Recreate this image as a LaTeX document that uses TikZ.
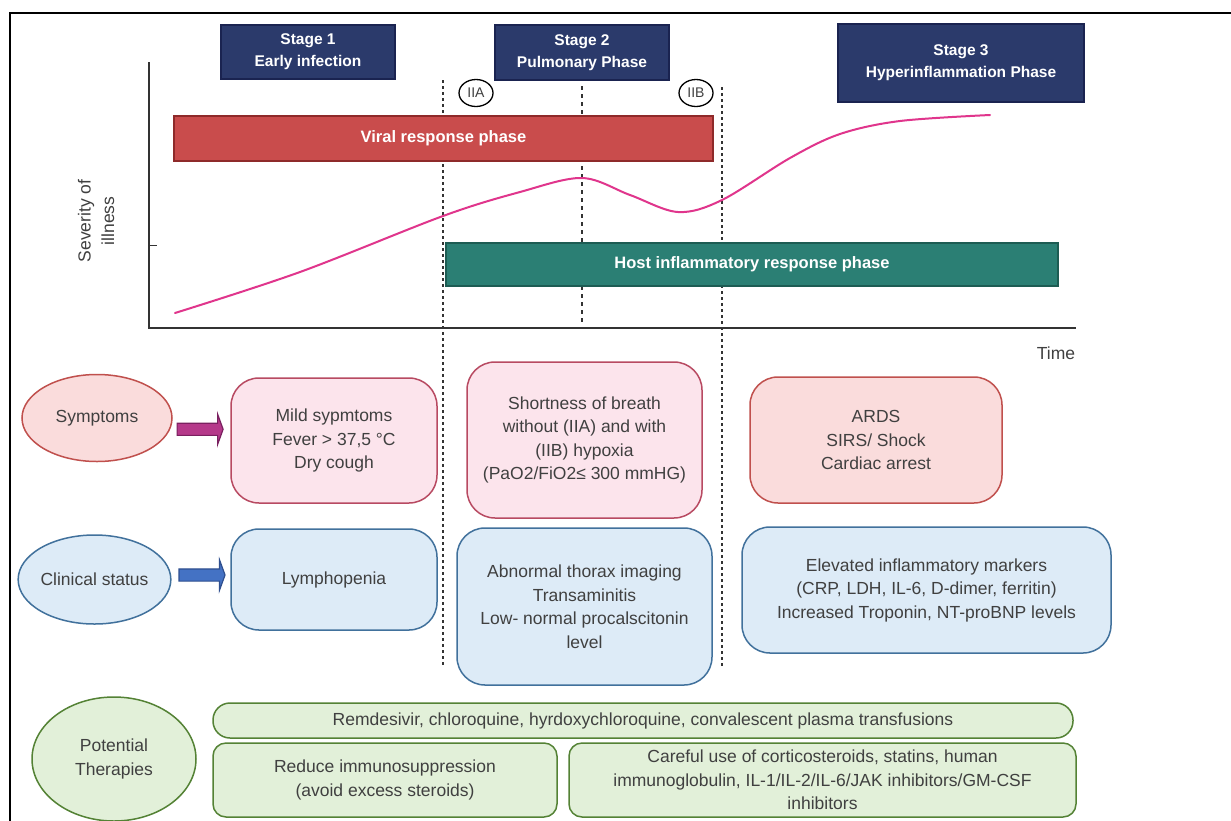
\documentclass[tikz,border=0pt]{standalone}
\usepackage{fontspec}
\setmainfont{Liberation Sans}
\usetikzlibrary{shapes.geometric,shapes.arrows,calc}
\definecolor{stagefill}{HTML}{2B3A6B}
\definecolor{stageedge}{HTML}{1A2350}
\definecolor{viralfill}{HTML}{C94C4C}
\definecolor{viraledge}{HTML}{8E2A2A}
\definecolor{hostfill}{HTML}{2B7F74}
\definecolor{hostedge}{HTML}{1D5C53}
\definecolor{curvecol}{HTML}{E0358C}
\definecolor{txt}{HTML}{404040}
\definecolor{axiscol}{HTML}{333333}
\definecolor{redfill}{HTML}{FADCDC}
\definecolor{rededge}{HTML}{C0504D}
\definecolor{pinkfill}{HTML}{FCE4EC}
\definecolor{pinkedge}{HTML}{B84A62}
\definecolor{bluefill}{HTML}{DDEBF7}
\definecolor{blueedge}{HTML}{41719C}
\definecolor{greenfill}{HTML}{E2F0D9}
\definecolor{greenedge}{HTML}{548235}
\definecolor{magfill}{HTML}{B5398A}
\definecolor{magedge}{HTML}{7A2060}
\definecolor{barrowfill}{HTML}{4472C4}
\definecolor{barrowedge}{HTML}{2F4F8F}
\newcommand\bodyfnt{\fontsize{17.5}{23.5}\selectfont}
\newcommand\headfnt{\fontsize{15.5}{22}\selectfont\bfseries}
\begin{document}
\begin{tikzpicture}[x=1pt,y=-1pt,
  stagebox/.style={draw=stageedge,fill=stagefill,line width=1.2pt,text=white,font=\headfnt,align=center,inner sep=0pt},
  phasebar/.style={line width=1.6pt,text=white,font=\fontsize{16.5}{20}\selectfont\bfseries,inner sep=0pt},
  dotline/.style={axiscol,line width=2pt,dash pattern=on 3pt off 3pt},
  midline/.style={axiscol,line width=1.6pt,dash pattern=on 4pt off 4pt},
  infobox/.style={rounded corners=28pt,line width=1.5pt,align=center,text=txt,font=\bodyfnt,inner sep=0pt},
  thbox/.style={draw=greenedge,fill=greenfill,rounded corners=13pt,line width=1.5pt,align=center,text=txt,font=\bodyfnt,inner sep=0pt},
  oval/.style={ellipse,line width=1.5pt,align=center,text=txt,font=\bodyfnt,inner sep=0pt},
  subph/.style={ellipse,draw=black,line width=1.3pt,inner sep=0pt,minimum width=34pt,minimum height=27pt,text=txt,font=\fontsize{14}{16}\selectfont},
  blockarrow/.style={single arrow,line width=1.2pt,inner xsep=0pt,inner ysep=5.5pt,single arrow head extend=9pt,single arrow tip angle=140,minimum height=46pt}
]
\clip (0,0) rectangle (1231,820);
\fill[white] (0,0) rectangle (1231,820);
% frame
\draw[black,line width=2.4pt] (10,822) -- (10,13) -- (1233,13);

% stage headers
\node[stagebox,minimum width=174pt,minimum height=54pt] (s1) at (308,52) {Stage 1\\Early infection};
\node[stagebox,minimum width=174pt,minimum height=55pt] (s2) at (582,52.5) {Stage 2\\Pulmonary Phase};
\node[stagebox,minimum width=246pt,minimum height=78pt] (s3) at (961,63) {Stage 3\\Hyperinflammation Phase};

% dotted separators
\draw[dotline] (443,80) -- (443,667);
\draw[midline] (582,86) -- (582,325);
\draw[dotline] (722,87) -- (722,668);

% sub-phase markers
\node[subph] (iia) at (476,93) {IIA};
\node[subph] (iib) at (696,93) {IIB};

% axes
\draw[axiscol,line width=1pt] (149,245) -- (157,245);
\draw[axiscol,line width=2.6pt] (149,62) -- (149,328) -- (1076,328);
\node[text=txt,font=\bodyfnt,align=center,rotate=90] (ylab) at (96,221) {Severity of\\illness};
\node[text=txt,font=\bodyfnt] (xlab) at (1056,353) {Time};

% phase bars
\node[phasebar,draw=viraledge,fill=viralfill,minimum width=539pt,minimum height=45pt] (viral) at (443.5,138.5) {Viral response phase};
\node[phasebar,draw=hostedge,fill=hostfill,minimum width=612pt,minimum height=43pt] (host) at (752,264.5) {Host inflammatory response phase};

% severity curve
\draw[curvecol,line width=2pt,line cap=round] plot[smooth,tension=0.55] coordinates {(175,313) (300,272) (443,216) (520,192) (582,178) (630,195) (678,212) (722,200) (790,158) (840,134) (900,121) (990,115)};

% row labels
\node[oval,draw=rededge,fill=redfill,minimum width=150pt,minimum height=87pt] (sym) at (97,418) {Symptoms};
\node[oval,draw=blueedge,fill=bluefill,minimum width=145pt,minimum height=89pt] (clin) at (94.5,579.5) {Clinical status};
\node[oval,draw=greenedge,fill=greenfill,minimum width=164pt,minimum height=124pt] (ther) at (114,759) {Potential\\Therapies};

% symptom boxes
\node[infobox,draw=pinkedge,fill=pinkfill,minimum width=206pt,minimum height=125pt] (mild) at (334,440.5) {Mild sypmtoms\\Fever > 37,5 °C\\Dry cough};
\node[infobox,draw=pinkedge,fill=pinkfill,minimum width=235pt,minimum height=156pt] (sob) at (584.5,440) {Shortness of breath\\without (IIA) and with\\(IIB) hypoxia\\(PaO2/FiO2≤ 300 mmHG)};
\node[infobox,draw=rededge,fill=redfill,minimum width=252pt,minimum height=126pt] (ards) at (876,440) {ARDS\\SIRS/ Shock\\Cardiac arrest};

% clinical boxes
\node[infobox,draw=blueedge,fill=bluefill,minimum width=206pt,minimum height=101pt] (lymph) at (334,579.5) {Lymphopenia};
\node[infobox,draw=blueedge,fill=bluefill,minimum width=255pt,minimum height=157pt] (abn) at (584.5,606.5) {Abnormal thorax imaging\\Transaminitis\\Low- normal procalscitonin\\level};
\node[infobox,draw=blueedge,fill=bluefill,minimum width=369pt,minimum height=126pt] (elev) at (926.5,590) {Elevated inflammatory markers\\(CRP, LDH, IL-6, D-dimer, ferritin)\\Increased Troponin, NT-proBNP levels};

% block arrows
\node[blockarrow,draw=magedge,fill=magfill] (a1) at ($(sym.east)!0.5!(mild.west)+(-2.5,0)$) {};
\node[blockarrow,draw=barrowedge,fill=barrowfill] (a2) at ($(clin.east)!0.5!(lymph.west)+(0,-4.5)$) {};

% therapies
\node[thbox,rounded corners=17pt,minimum width=860pt,minimum height=35pt] (remd) at (643,720.5) {Remdesivir, chloroquine, hyrdoxychloroquine, convalescent plasma transfusions};
\node[thbox,minimum width=344pt,minimum height=74pt] (reduce) at (385,780) {Reduce immunosuppression\\(avoid excess steroids)};
\node[thbox,minimum width=507pt,minimum height=74pt] (careful) at (822.5,780) {Careful use of corticosteroids, statins, human\\immunoglobulin, IL-1/IL-2/IL-6/JAK inhibitors/GM-CSF\\inhibitors};
\end{tikzpicture}
\end{document}
